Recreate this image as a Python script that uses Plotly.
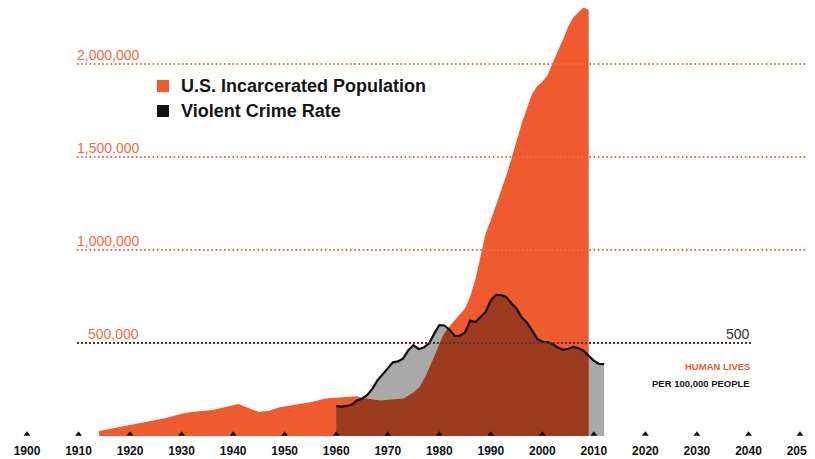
import numpy as np
import plotly.graph_objects as go

# ---------------- data ----------------
incarc_years = [1914, 1920, 1925, 1927, 1930, 1932, 1936, 1938, 1940, 1941, 1945, 1947,
                1949, 1952, 1955, 1958, 1960, 1962, 1964, 1965, 1967, 1968, 1970, 1972,
                1973, 1974, 1975, 1976, 1977, 1978, 1979, 1980, 1981, 1982, 1983, 1984,
                1985, 1986, 1987, 1988, 1989, 1990, 1991, 1992, 1993, 1994, 1995, 1996,
                1997, 1998, 1999, 2000, 2001, 2002, 2003, 2004, 2005, 2006, 2007, 2008,
                2009]
incarc_values = [27000, 59000, 86000, 97000, 120000, 129000, 140000, 152000, 168000, 172000,
                 129000, 136000, 155000, 167000, 181000, 202000, 207000, 210000, 214000,
                 206000, 196000, 189000, 194000, 196000, 200000, 215000, 235000, 255000,
                 300000, 360000, 420000, 500000, 555000, 590000, 625000, 655000, 685000,
                 750000, 840000, 960000, 1090000, 1160000, 1240000, 1310000, 1400000,
                 1490000, 1590000, 1680000, 1760000, 1840000, 1880000, 1905000, 1940000,
                 2010000, 2070000, 2130000, 2200000, 2250000, 2280000, 2305000, 2290000]

crime_years = list(range(1960, 2013))
crime_rate = [160.9, 158.1, 162.3, 168.2, 190.6, 200.2, 220.0, 253.2, 298.4, 328.7,
              363.5, 396.0, 401.0, 417.4, 461.1, 487.8, 467.8, 475.9, 497.8, 548.9,
              596.6, 594.3, 571.1, 537.7, 539.2, 556.6, 620.1, 612.5, 640.6, 666.9,
              729.6, 758.2, 757.7, 747.1, 713.6, 684.5, 636.6, 611.0, 567.6, 523.0,
              506.5, 504.5, 494.4, 475.8, 463.2, 469.0, 479.3, 471.8, 458.6, 431.9,
              404.5, 387.1, 386.9]

grid_values = [500000, 1000000, 1500000, 2000000]
grid_labels = ["500,000", "1,000,000", "1,500,000", "2,000,000"]
tick_years = list(range(1900, 2051, 10))
tick_labels = [str(y) for y in tick_years]

series_names = ["U.S. Incarcerated Population", "Violent Crime Rate"]

# ---------------- styling ----------------
ORANGE = "#EF5B2F"
GRAY = "#A9A9A9"
BROWN = "#9D3B1F"
LABEL_ORANGE = "#F26D3F"
FONT = "Liberation Sans, Arial, Helvetica, sans-serif"
SCALE = 1000  # crime rate 500 per 100k aligned with 500,000

OFF = 8                      # page body margin
W, H = 815 - OFF, 459 - OFF  # figure size
BASE = 436 - OFF             # baseline (fig px)
B_MARGIN = H - BASE
PPY = 773 / 150.0            # px per year
x0 = 1900 - (27 - OFF) / PPY
x1 = x0 + W / PPY
ytop = BASE / 93.0 * 500000


def xp(px):
    return (px - OFF) / W


def yp(py):
    return 1 - (py - OFF) / BASE


crime_scaled = [v * SCALE for v in crime_rate]

# overlap region (both areas), evaluated on a fine grid
fx = np.linspace(1960, 2009, 981)
f_inc = np.interp(fx, incarc_years, incarc_values)
f_cr = np.interp(fx, crime_years, crime_scaled)
overlap = np.minimum(f_inc, f_cr)

fig = go.Figure()
fig.add_trace(go.Scatter(x=incarc_years, y=incarc_values, mode="lines", fill="tozeroy",
                         fillcolor=ORANGE, line=dict(width=0, color=ORANGE),
                         showlegend=False, hoverinfo="skip"))
fig.add_trace(go.Scatter(x=crime_years, y=crime_scaled, mode="lines", fill="tozeroy",
                         fillcolor=GRAY, line=dict(width=0, color=GRAY),
                         showlegend=False, hoverinfo="skip"))
fig.add_trace(go.Scatter(x=fx, y=overlap, mode="lines", fill="tozeroy",
                         fillcolor=BROWN, line=dict(width=0, color=BROWN),
                         showlegend=False, hoverinfo="skip"))
fig.add_trace(go.Scatter(x=crime_years, y=crime_scaled, mode="lines",
                         line=dict(width=2.2, color="#111111"),
                         showlegend=False, hoverinfo="skip"))
# decade triangles on the baseline
fig.add_trace(go.Scatter(x=tick_years, y=[9000] * len(tick_years), mode="markers",
                         marker=dict(symbol="triangle-up", size=6, color="#111111"),
                         cliponaxis=False, showlegend=False, hoverinfo="skip"))

shapes = []
annotations = []
for v, lab in zip(grid_values, grid_labels):
    if v == 500000:
        shapes.append(dict(type="line", xref="paper", yref="y", x0=xp(77), x1=xp(752),
                           y0=v, y1=v, layer="above",
                           line=dict(color=LABEL_ORANGE, width=2, dash="2px,2px")))
        shapes.append(dict(type="line", xref="paper", yref="y", x0=xp(77), x1=xp(752),
                           y0=v, y1=v, layer="above",
                           line=dict(color="#222222", width=1.5, dash="2px,2px")))
    else:
        shapes.append(dict(type="line", xref="paper", yref="y", x0=xp(77), x1=1,
                           y0=v, y1=v, layer="above",
                           line=dict(color=LABEL_ORANGE, width=1.8, dash="1.6px,2.6px")))
    annotations.append(dict(x=xp(141), xref="paper", y=v, yref="y", yshift=9,
                            text=lab, showarrow=False, xanchor="right", yanchor="middle",
                            font=dict(family=FONT, size=14, color=LABEL_ORANGE)))

# legend (custom)
leg_colors = [ORANGE, "#111111"]
leg_y = [86, 111]
for name, col, ly in zip(series_names, leg_colors, leg_y):
    shapes.append(dict(type="rect", xref="paper", yref="paper",
                       x0=xp(157), x1=xp(169), y0=yp(ly + 6), y1=yp(ly - 6),
                       fillcolor=col, line=dict(width=0)))
    annotations.append(dict(x=xp(179), xref="paper", y=yp(ly), yref="paper",
                            text=name, showarrow=False, xanchor="left", yanchor="middle",
                            font=dict(family=FONT, size=18, color="#151515", weight="bold")))

# right-side annotations
annotations.append(dict(x=xp(752), xref="paper", y=500000, yref="y", yshift=9,
                        text="500", showarrow=False, xanchor="right", yanchor="middle",
                        font=dict(family=FONT, size=14, color="#333333")))
annotations.append(dict(x=xp(752), xref="paper", y=yp(366), yref="paper",
                        text="HUMAN LIVES", showarrow=False, xanchor="right", yanchor="middle",
                        font=dict(family=FONT, size=9.5, color=ORANGE, weight="bold")))
annotations.append(dict(x=xp(752), xref="paper", y=yp(383), yref="paper",
                        text="PER 100,000 PEOPLE", showarrow=False, xanchor="right",
                        yanchor="middle",
                        font=dict(family=FONT, size=9.5, color="#151515", weight="bold")))

fig.update_layout(
    width=W, height=H,
    margin=dict(l=0, r=0, t=0, b=B_MARGIN),
    paper_bgcolor="white", plot_bgcolor="white",
    shapes=shapes, annotations=annotations,
    showlegend=False,
    xaxis=dict(range=[x0, x1], showgrid=False, zeroline=False, showline=False,
               tickvals=tick_years, ticktext=tick_labels, ticks="",
               ticklabelstandoff=6,
               tickfont=dict(family=FONT, size=12, color="#111111", weight="bold"),
               fixedrange=True),
    yaxis=dict(range=[0, ytop], showgrid=False, zeroline=False, showline=False,
               showticklabels=False, fixedrange=True),
)

fig.write_html("out.html")
